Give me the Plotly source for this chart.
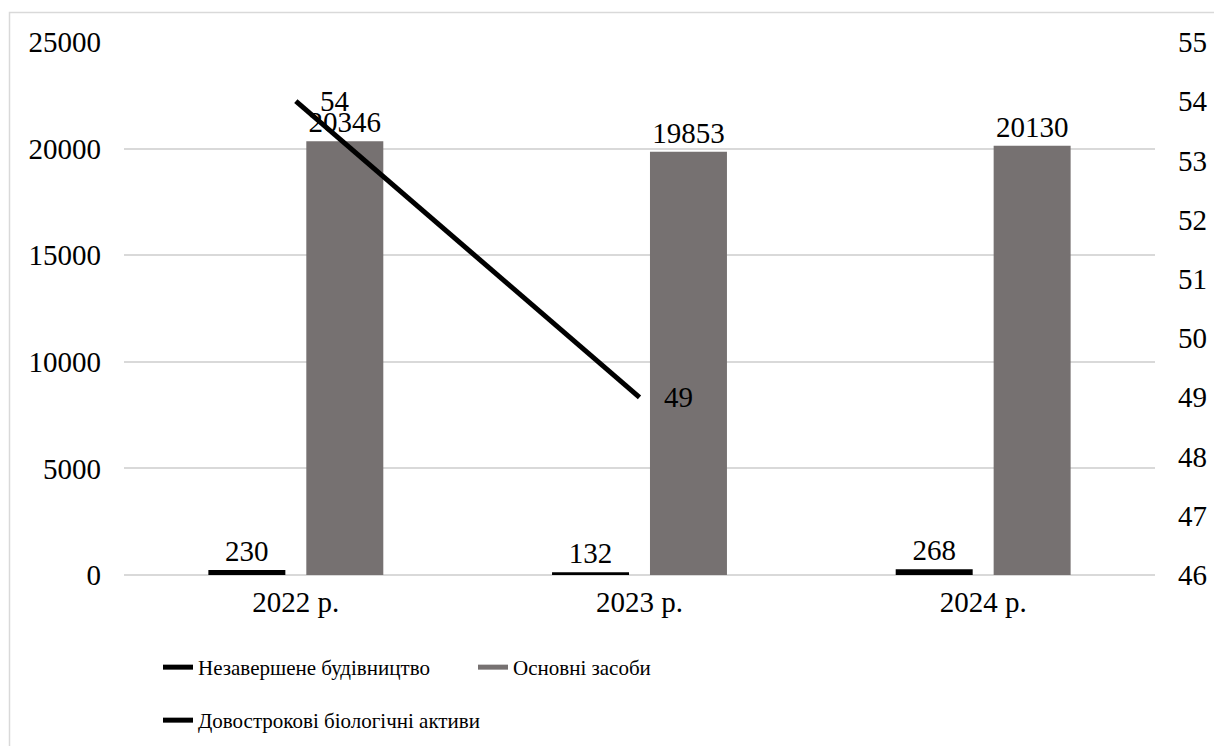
import plotly.graph_objects as go

years = ["2022 р.", "2023 р.", "2024 р."]
construction = [230, 132, 268]
fixed_assets = [20346, 19853, 20130]
bio_assets = [54, 49, None]

series_names = ["Незавершене будівництво", "Основні засоби", "Довострокові біологічні активи"]
colors = ["#000000", "#767171", "#000000"]

FONT = "'Liberation Serif', 'Times New Roman', 'DejaVu Serif', serif"
TXT = 29
LEG = 21

fig = go.Figure()
for vals, name, col, grp in [(construction, series_names[0], colors[0], "g1"),
                             (fixed_assets, series_names[1], colors[1], "g2")]:
    fig.add_trace(go.Bar(
        x=years, y=vals, name=name, legendgroup=grp, showlegend=False,
        marker=dict(color=col, line=dict(width=0)),
        text=[str(v) for v in vals], textposition="outside",
        textfont=dict(family=FONT, size=TXT, color="#000000"),
        cliponaxis=False,
    ))
    fig.add_trace(go.Scatter(
        x=[years[0]], y=[None], name=name, legendgroup=grp, mode="lines",
        line=dict(color=col, width=12), legend="legend", hoverinfo="skip",
    ))

fig.add_trace(go.Scatter(
    x=years, y=bio_assets, name=series_names[2], yaxis="y2",
    mode="lines", line=dict(color=colors[2], width=5),
    connectgaps=False, legend="legend2",
))

for xv, v in zip(years, bio_assets):
    if v is not None:
        fig.add_annotation(
            x=xv, y=v, xref="x", yref="y2", text=str(v), showarrow=False,
            xanchor="left", yanchor="middle", xshift=22,
            font=dict(family=FONT, size=TXT, color="#000000"),
        )

L, T, W, H = 124, 42, 1214, 746
R = 59
B = 171
pw = W - L - R
ph = H - T - B

def px2x(p):
    return (p - L) / pw

def py2y(p):
    return (H - B - p) / ph

fig.add_shape(
    type="rect", xref="paper", yref="paper",
    x0=px2x(9.5), x1=px2x(1240), y0=py2y(800), y1=py2y(12.5),
    line=dict(color="#d9d9d9", width=1.5), fillcolor="rgba(0,0,0,0)", layer="below",
)

fig.update_layout(
    width=W, height=H,
    margin=dict(l=L, r=R, t=T, b=B, autoexpand=False),
    paper_bgcolor="white", plot_bgcolor="white",
    font=dict(family=FONT, size=TXT, color="#000000"),
    barmode="group", bargap=0.43, bargroupgap=0.214,
    xaxis=dict(type="category", showgrid=False, showline=False, ticks="",
               ticklabelstandoff=7, tickfont=dict(family=FONT, size=TXT)),
    yaxis=dict(range=[0, 25000], dtick=5000, tickformat="d", showgrid=True, gridcolor="#d9d9d9",
               gridwidth=1.5, zeroline=True, zerolinecolor="#d9d9d9", zerolinewidth=1.5,
               showline=False, ticks="", ticklabelstandoff=22,
               tickfont=dict(family=FONT, size=TXT)),
    yaxis2=dict(range=[46, 55], dtick=1, overlaying="y", side="right", showgrid=False,
                zeroline=False, showline=False, ticks="", ticklabelstandoff=22,
                tickfont=dict(family=FONT, size=TXT)),
    legend=dict(orientation="h", x=px2x(158), xanchor="left", y=py2y(647), yanchor="top",
                font=dict(family=FONT, size=LEG), entrywidth=270, entrywidthmode="pixels",
                bgcolor="rgba(0,0,0,0)", itemsizing="constant"),
    legend2=dict(orientation="h", x=px2x(158), xanchor="left", y=py2y(700), yanchor="top",
                 font=dict(family=FONT, size=LEG), bgcolor="rgba(0,0,0,0)"),
    showlegend=True,
)

fig.write_html("out.html")
